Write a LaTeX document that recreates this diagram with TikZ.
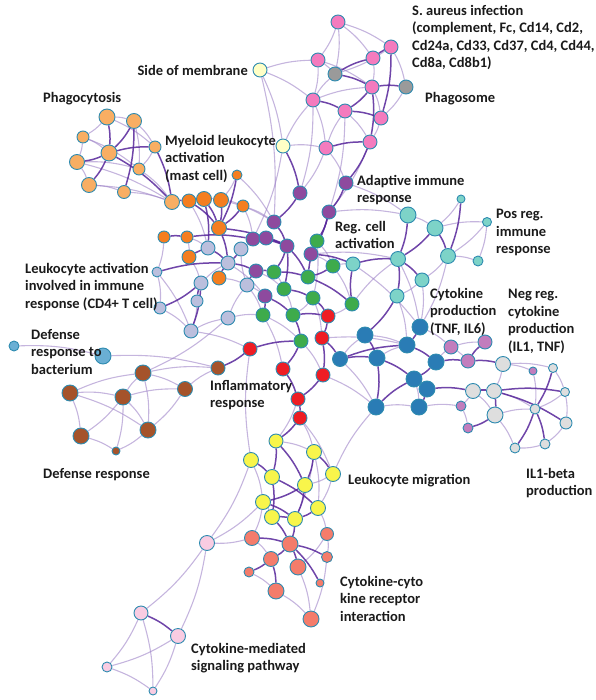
\documentclass[tikz,border=0pt]{standalone}
\usepackage{fontspec}
\setmainfont{Carlito}
\usetikzlibrary{backgrounds}
\definecolor{rim}{HTML}{2E8BB0}
\definecolor{ink}{HTML}{1A1A1A}
\definecolor{strong}{HTML}{56259A}
\definecolor{faint}{HTML}{9F84C8}
\definecolor{smc}{HTML}{FFFFC6}
\definecolor{pinkc}{HTML}{F47BBE}
\definecolor{grayc}{HTML}{9A9A9A}
\definecolor{pgc}{HTML}{F8AE63}
\definecolor{myc}{HTML}{F47E20}
\definecolor{lac}{HTML}{BBBFDD}
\definecolor{puc}{HTML}{8E4A9E}
\definecolor{grc}{HTML}{3EAB4C}
\definecolor{rec}{HTML}{EE1D24}
\definecolor{tqc}{HTML}{7DD3C8}
\definecolor{blc}{HTML}{2A7CB5}
\definecolor{mvc}{HTML}{C27DBD}
\definecolor{lgc}{HTML}{DEDEDE}
\definecolor{dbc}{HTML}{6AAFD4}
\definecolor{brc}{HTML}{A5532A}
\definecolor{yec}{HTML}{F8F54B}
\definecolor{sac}{HTML}{F47C6B}
\definecolor{lpc}{HTML}{F9CCE2}

\begin{document}
\begin{tikzpicture}[x=1pt,y=-1pt,
  gene/.style={circle,draw=rim,line width=0.9pt,inner sep=0pt},
  tie/.style={strong,line width=1.5pt,opacity=0.85},
  wisp/.style={faint,line width=1.1pt,opacity=0.6},
  term/.style={font=\fontsize{14.5}{17.5}\selectfont\bfseries,text=ink,align=left,inner sep=0pt,anchor=north west}]
\useasboundingbox (0,0) rectangle (595,700);
% term clusters
\foreach \n/\x/\y/\s in {sm1/260/70/14, sm2/283/146/14}
  \node[gene,fill=smc,minimum size=\s pt] (\n) at (\x,\y) {};
\foreach \n/\x/\y/\s in {pk1/338/22/14, pk2/391/47/14, pk3/318/60/14, pk4/373/58/14, pk5/372/87/14, pk6/313/100/14, pk7/345/111/14, pk8/381/118/14, pk9/370/142/14, pk10/326/148/14}
  \node[gene,fill=pinkc,minimum size=\s pt] (\n) at (\x,\y) {};
\foreach \n/\x/\y/\s in {gy1/335/74/14, gy2/406/87/14}
  \node[gene,fill=grayc,minimum size=\s pt] (\n) at (\x,\y) {};
\foreach \n/\x/\y/\s in {pg1/107/117/16, pg2/134/121/15, pg3/83/137/12, pg4/109/153/16, pg5/155/147/12, pg6/77/162/15, pg7/139/169/12, pg8/89/185/15, pg9/124/192/13, pg10/172/202/15}
  \node[gene,fill=pgc,minimum size=\s pt] (\n) at (\x,\y) {};
\foreach \n/\x/\y/\s in {my1/237/175/10, my2/189/201/14, my3/204/199/15, my4/221/200/15, my5/243/206/12, my6/219/228/15, my7/164/237/12, my8/187/237/12, my9/189/257/14, my10/219/278/14}
  \node[gene,fill=myc,minimum size=\s pt] (\n) at (\x,\y) {};
\foreach \n/\x/\y/\s in {la1/208/248/14, la2/241/249/14, la3/228/263/14, la4/157/272/10, la5/201/283/14, la6/247/285/14, la7/197/301/12, la8/160/308/12, la9/228/318/14, la10/191/331/14}
  \node[gene,fill=lac,minimum size=\s pt] (\n) at (\x,\y) {};
\foreach \n/\x/\y/\s in {pu1/300/193/14, pu2/346/183/14, pu3/329/212/14, pu4/274/222/14, pu5/253/239/14, pu6/266/238/14, pu7/287/246/14, pu8/311/254/14, pu9/256/271/14, pu10/265/296/14}
  \node[gene,fill=puc,minimum size=\s pt] (\n) at (\x,\y) {};
\foreach \n/\x/\y/\s in {gr1/317/241/14, gr2/333/266/14, gr3/274/272/14, gr4/308/277/14, gr5/284/289/14, gr6/313/298/14, gr7/263/315/14, gr8/293/315/14, gr9/352/304/14, gr10/301/341/14}
  \node[gene,fill=grc,minimum size=\s pt] (\n) at (\x,\y) {};
\foreach \n/\x/\y/\s in {re1/328/316/14, re2/322/338/14, re3/250/349/14, re4/283/369/14, re5/323/375/14, re6/298/399/14, re7/300/418/14}
  \node[gene,fill=rec,minimum size=\s pt] (\n) at (\x,\y) {};
\foreach \n/\x/\y/\s in {tq1/353/264/14, tq2/408/215/16, tq3/435/228/16, tq4/461/199/8, tq5/487/222/9, tq6/398/259/15, tq7/448/256/15, tq8/478/261/10, tq9/422/280/14, tq10/397/296/14}
  \node[gene,fill=tqc,minimum size=\s pt] (\n) at (\x,\y) {};
\foreach \n/\x/\y/\s in {bl1/340/359/15, bl2/365/335/16, bl3/377/358/16, bl4/420/327/16, bl5/407/345/16, bl6/436/362/16, bl7/414/379/16, bl8/427/389/16, bl9/376/407/16, bl10/419/407/16}
  \node[gene,fill=blc,minimum size=\s pt] (\n) at (\x,\y) {};
\foreach \n/\x/\y/\s in {mv1/451/347/14, mv2/485/342/14, mv3/468/361/14, mv4/533/371/8, mv5/461/406/10, mv6/468/428/10}
  \node[gene,fill=mvc,minimum size=\s pt] (\n) at (\x,\y) {};
\foreach \n/\x/\y/\s in {lg1/503/364/15, lg2/553/368/9, lg3/473/391/15, lg4/494/391/15, lg5/495/415/16, lg6/565/392/9, lg7/535/409/10, lg8/566/423/12, lg9/545/444/10, lg10/515/448/10}
  \node[gene,fill=lgc,minimum size=\s pt] (\n) at (\x,\y) {};
\foreach \n/\x/\y/\s in {db1/14/346/10, db2/103/356/16}
  \node[gene,fill=dbc,minimum size=\s pt] (\n) at (\x,\y) {};
\foreach \n/\x/\y/\s in {br1/143/373/16, br2/218/368/14, br3/70/393/16, br4/123/397/16, br5/185/389/15, br6/81/436/16, br7/148/430/16, br8/116/451/8}
  \node[gene,fill=brc,minimum size=\s pt] (\n) at (\x,\y) {};
\foreach \n/\x/\y/\s in {ye1/276/441/14, ye2/251/460/15, ye3/314/452/15, ye4/272/477/15, ye5/333/474/15, ye6/305/485/15, ye7/263/502/15, ye8/318/508/15, ye9/272/517/15, ye10/295/519/15}
  \node[gene,fill=yec,minimum size=\s pt] (\n) at (\x,\y) {};
\foreach \n/\x/\y/\s in {sa1/252/538/15, sa2/327/534/13, sa3/290/544/16, sa4/271/559/15, sa5/327/557/11, sa6/298/567/16, sa7/249/572/10, sa8/320/583/8, sa9/276/591/16, sa10/311/619/16}
  \node[gene,fill=sac,minimum size=\s pt] (\n) at (\x,\y) {};
\foreach \n/\x/\y/\s in {lp1/207/543/15, lp2/141/613/14, lp3/178/636/15, lp4/107/667/10, lp5/153/691/8}
  \node[gene,fill=lpc,minimum size=\s pt] (\n) at (\x,\y) {};
% links
\begin{scope}[on background layer]
\foreach \a/\b in {pk1/pk3, pk1/pk4, pk1/gy1, pk3/gy1, pk3/pk6, pk6/gy1, pk6/pk10, pk4/pk5, pk2/gy1, pk5/pk8, pk8/pk9, pk7/pk9, pk3/pk5, pk10/pk7, pk1/pk2, pk6/pk5, gy2/pk8, pk2/gy2, pk10/pu1, pk10/pu2, pk7/pu3, sm1/pk6, sm1/sm2, sm2/pk6, sm2/pk10, sm1/pu4, sm1/pk3, sm2/pu5, pk6/pu1, pk9/pu3,
  pg1/pg2, pg1/pg3, pg3/pg6, pg6/pg8, pg8/pg9, pg9/pg10, pg5/pg7, pg7/pg10, pg3/pg4, pg1/pg5, pg2/pg5, pg6/pg7, pg3/pg7, pg8/pg10, pg2/pg7, pg6/pg10,
  my1/my4, my3/my4, my2/my3, my4/my5, my4/pu4, my1/pu4, my7/la4, my8/la1, my9/la5, my10/la6, my5/pu5, my8/my9, my2/la1, my5/pu4,
  la4/la8, la8/la10, la10/la9, la9/la6, la4/la10, la5/la3, la6/la2, la7/la10, la9/gr7, la10/re3, la9/br1, la6/pu10, la2/pu6, la6/gr7, la3/pu10,
  gr1/gr2, gr2/tq1, gr6/gr8, gr5/gr8, gr7/re4, gr9/re1, gr9/tq6, pu8/tq6, pu2/tq2, pu3/tq2, gr2/gr9, gr10/re5, gr3/gr5, pu9/gr5, gr1/gr6, pu8/gr2, gr7/gr10, gr6/re2,
  tq2/tq3, tq7/tq8, tq5/tq7, tq4/tq3, tq5/tq8, tq9/tq10, tq1/bl4, tq6/bl4, tq7/tq9, tq3/tq5, tq9/bl4, tq7/bl4,
  bl1/bl2, bl2/bl5, bl3/bl5, bl6/mv1, mv1/mv3, bl4/mv1, mv1/mv2, lg1/lg4, lg3/mv5, lg6/lg8, lg8/lg9, lg9/lg10, lg1/lg2, lg1/mv4, mv4/lg7, lg2/lg6, lg5/lg10, lg5/lg7, lg3/lg5, lg6/lg7, mv5/mv6, lg4/lg7, bl10/mv5, bl9/bl10, re5/bl9, re2/bl5, bl1/bl9, tq10/bl5, ye5/bl9, bl7/bl10,
  ye2/ye7, ye3/ye8, ye5/ye8, ye7/ye9, ye5/ye6, ye8/sa2, ye7/sa1, sa6/sa10, sa2/sa5, sa1/sa4, sa9/sa10, sa5/sa10, sa2/sa6, sa7/sa9, sa1/lp1, ye2/lp1, ye7/lp1, lp1/lp3, lp1/lp2, lp2/lp4, lp2/lp5, lp3/lp4, lp3/lp5, lp4/lp5, re7/ye3, re6/ye1, re7/ye5, ye2/re3, ye1/ye3, ye3/ye10,
  br3/br4, br3/br1, br4/br1, br4/br5, br4/br6, br4/br7, br5/br7, br6/br8, br7/br8, br4/br8, br1/br7, br3/br6, br1/br5, br5/br2, db1/db2, db2/br2, br1/br2, br3/br7}
  \draw[wisp] (\a) to[bend left=8] (\b);
\foreach \a/\b in {gy1/pk4, gy1/pk5, pk5/gy2, pk5/pk7, pk4/pk2, pk2/pk8, pk5/pk9, pk10/pk9, pk7/pk8, pk6/pk7, pk9/pu2, sm2/pu1,
  pg1/pg4, pg2/pg4, pg4/pg6, pg4/pg5, pg4/pg8, pg2/pg9, pg4/pg10, pg5/pg10, pg10/my2,
  my2/my6, my3/my6, my4/my6, my1/my6, my5/my6, my6/la3, my7/my8, my8/pu5, my6/pu7, my10/la3, my9/la1, my3/la1,
  la4/la3, la5/la8, la5/la10, la7/la5, la1/la3, la2/la3, la3/pu9, la6/pu9,
  pu9/gr3, gr3/gr4, pu7/gr4, gr4/gr1, gr1/pu8, pu8/tq1, pu4/pu7, pu6/pu7, pu7/gr5, gr5/gr6, gr6/re1, gr4/gr9, gr2/gr4, pu3/pu8, pu2/pu3, pu3/gr1, pu1/pu4, pu10/gr7, pu10/gr8, gr8/re1, re1/re2, gr8/gr10, gr10/re4, re2/re5, re4/re6, re5/re6, re6/re7, re3/gr10, re3/br2, pu5/pu7, pu7/gr3,
  tq1/tq6, tq2/tq6, tq3/tq6, tq3/tq7, tq4/tq7, tq6/tq9, tq6/tq10, tq10/bl2, gr9/tq1,
  bl1/bl3, bl2/bl3, bl3/bl7, bl3/bl9, bl4/bl5, bl5/bl6, bl6/bl7, bl7/bl8, bl8/bl10, bl9/bl7, bl6/mv3, mv3/mv2, mv3/lg1, bl8/lg3, lg3/lg4, lg4/lg5, lg4/lg8, lg5/mv6, lg2/lg7, lg7/lg9, lg7/lg10, lg4/lg6, re2/bl1, bl1/bl5,
  re7/ye1, ye1/ye4, ye1/ye6, ye2/ye4, ye3/ye6, ye3/ye5, ye4/ye8, ye4/ye9, ye6/ye7, ye6/ye10, ye8/ye10, ye9/ye10, ye9/sa3, ye10/sa3, sa1/sa3, sa3/sa4, sa3/sa6, sa3/sa5, sa3/sa8, sa4/sa7, sa4/sa9, ye7/ye10,
  lp2/lp3}
  \draw[tie] (\a) to[bend left=8] (\b);
\end{scope}
% labels
\node[term] (saureus) at (412,5) {S. aureus infection\\(complement, Fc, Cd14, Cd2,\\Cd24a, Cd33, Cd37, Cd4, Cd44,\\Cd8a, Cd8b1)};
\node[term] (phagosome) at (425,92) {Phagosome};
\node[term,anchor=east] (membrane) at (248,70) {Side of membrane};
\node[term] (phagocytosis) at (43,92) {Phagocytosis};
\node[term] (myeloid) at (165,135) {Myeloid leukocyte\\activation\\(mast cell)};
\node[term] (adaptive) at (357,175) {Adaptive immune\\response};
\node[term] (regcell) at (335,221) {Reg. cell\\activation};
\node[term] (posreg) at (496,209) {Pos reg.\\immune\\response};
\node[term] (leukact) at (25,263) {Leukocyte activation\\involved in immune\\response (CD4+ T cell)};
\node[term] (bacterium) at (31,329) {Defense\\response to\\bacterium};
\node[term] (cytprod) at (430,288) {Cytokine\\production\\(TNF, IL6)};
\node[term] (negreg) at (508,289) {Neg reg.\\cytokine\\production\\(IL1, TNF)};
\node[term] (inflam) at (210,380) {Inflammatory\\response};
\node[term] (defense) at (43,468) {Defense response};
\node[term] (migration) at (348,474) {Leukocyte migration};
\node[term] (ilbeta) at (526,468) {IL1-beta\\production};
\node[term] (receptor) at (340,576) {Cytokine-cyto\\kine receptor\\interaction};
\node[term] (mediated) at (191,643) {Cytokine-mediated\\signaling pathway};
\end{tikzpicture}
\end{document}
